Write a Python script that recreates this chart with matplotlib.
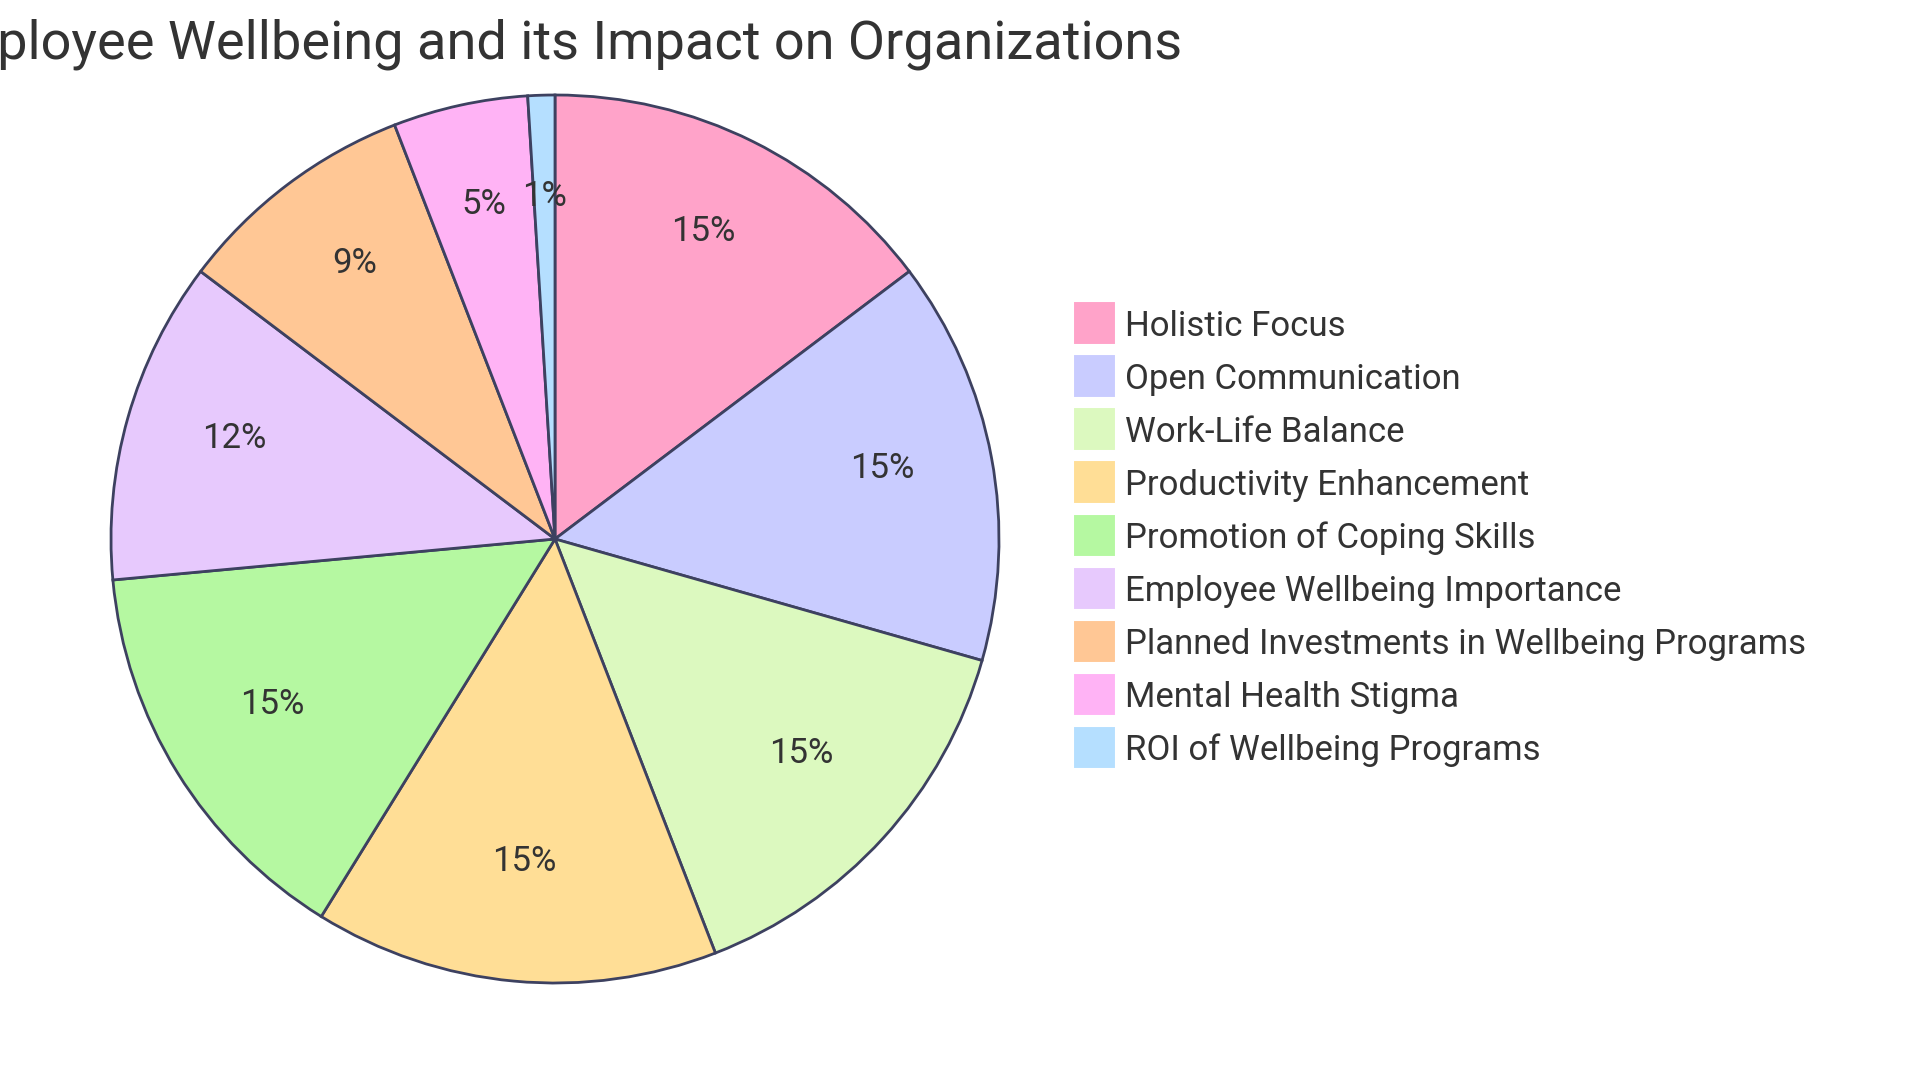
import matplotlib
matplotlib.use("Agg")
import matplotlib.pyplot as plt
from matplotlib.patches import Rectangle

title = "Employee Wellbeing and its Impact on Organizations"
categories = ["Holistic Focus", "Open Communication", "Work-Life Balance",
              "Productivity Enhancement", "Promotion of Coping Skills",
              "Employee Wellbeing Importance", "Planned Investments in Wellbeing Programs",
              "Mental Health Stigma", "ROI of Wellbeing Programs"]
values = [15, 15, 15, 15, 15, 12, 9, 5, 1]
colors = ["#FFA3C9", "#C9CCFF", "#DCF9BF", "#FFDE96", "#B5F8A1",
          "#E7C9FD", "#FFC795", "#FFB3F5", "#B5DFFF"]

plt.rcParams['font.family'] = ['Roboto', 'DejaVu Sans']
W, H = 1920, 1080
fig = plt.figure(figsize=(W/100, H/100), dpi=100)
fig.patch.set_facecolor("white")

cx, cy, r = 555, 539, 444
ax = fig.add_axes([(cx - r)/W, (H - cy - r)/H, 2*r/W, 2*r/H])
edge = "#3D4160"
wedges, texts, autotexts = ax.pie(
    values, colors=colors, startangle=90, counterclock=False,
    autopct=lambda p: f"{p:.0f}%", pctdistance=0.75, radius=1.0,
    wedgeprops=dict(edgecolor=edge, linewidth=2.0, clip_on=False),
    textprops=dict(fontsize=25, color="#333333"))
for t in autotexts:
    t.set_va("baseline")
ax.set_xlim(-1.0, 1.0)
ax.set_ylim(-1.0, 1.0)
ax.set_aspect("equal")
ax.axis("off")

# legend
sw_x, sw_w = 1073, 43
row0, step = 323, 53.0
for i, (lab, col) in enumerate(zip(categories, colors)):
    yc = row0 + i*step
    fig.patches.append(Rectangle(((sw_x)/W, (H - yc - sw_w/2)/H), sw_w/W, sw_w/H,
                                 transform=fig.transFigure, facecolor=col,
                                 edgecolor="white", linewidth=1.5))
    fig.text(1125/W, (H - yc)/H, lab, fontsize=25, color="#333333",
             ha="left", va="center_baseline")

fig.text(1182/W, (H - 44)/H, title, fontsize=39, color="#333333",
         ha="right", va="center")

fig.savefig("out.png", dpi=100)
